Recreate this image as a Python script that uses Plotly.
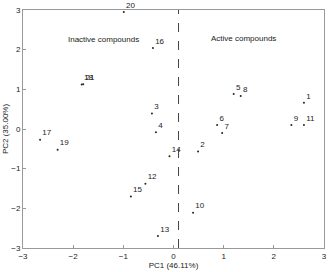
import plotly.graph_objects as go

labels = ["1","2","3","4","5","6","7","8","9","10","11","12","13","14","15","16","17","18","19","20","21"]
pc1 = [2.60, 0.49, -0.43, -0.35, 1.20, 0.87, 0.97, 1.34, 2.35, 0.39, 2.60, -0.56, -0.31, -0.08, -0.85, -0.41, -2.66, -1.83, -2.31, -0.99, -1.80]
pc2 = [0.66, -0.57, 0.39, -0.08, 0.88, 0.10, -0.10, 0.83, 0.10, -2.11, 0.10, -1.38, -2.70, -0.69, -1.70, 2.04, -0.27, 1.12, -0.52, 2.95, 1.13]

fig = go.Figure()
fig.add_trace(go.Scatter(
    x=pc1, y=pc2, mode="markers+text", text=labels,
    textposition="top right",
    textfont=dict(family="Liberation Sans, Arial", size=8, color="#222"),
    marker=dict(size=2, color="#222"),
    showlegend=False, cliponaxis=False,
))
fig.add_shape(type="line", x0=0.1, x1=0.1, y0=-3, y1=3, xref="x", yref="y",
              line=dict(color="#444", width=1, dash="dash"))
fig.add_annotation(x=-1.4, y=2.25, text="Inactive compounds", showarrow=False,
                   font=dict(family="Liberation Sans, Arial", size=8, color="#222"))
fig.add_annotation(x=1.4, y=2.28, text="Active compounds", showarrow=False,
                   font=dict(family="Liberation Sans, Arial", size=8, color="#222"))

axis_common = dict(showgrid=False, zeroline=False, showline=True, mirror=True,
                   linecolor="#999", linewidth=1, ticks="inside", ticklen=3,
                   tickcolor="#999", dtick=1,
                   tickfont=dict(family="Liberation Sans, Arial", size=8, color="#222"))
fig.update_xaxes(range=[-3, 3], title=dict(text="PC1 (46.11%)", standoff=1,
                 font=dict(family="Liberation Sans, Arial", size=8, color="#222")), **axis_common)
fig.update_yaxes(range=[-3, 3], title=dict(text="PC2 (35.00%)", standoff=1,
                 font=dict(family="Liberation Sans, Arial", size=8, color="#222")), **axis_common)
fig.update_layout(width=332, height=272, margin=dict(l=18, r=5, t=10, b=18),
                  plot_bgcolor="white", paper_bgcolor="white")
fig.write_html("out.html")
